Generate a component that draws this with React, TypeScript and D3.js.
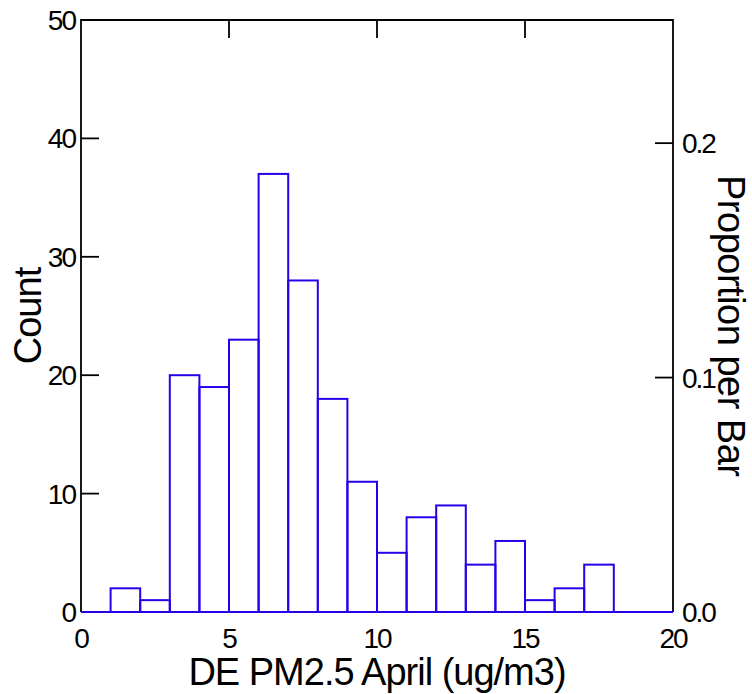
import React from 'react';
import * as d3 from 'd3';

// histogram of DE PM2.5 April, bin width 1
const binStarts = [1, 2, 3, 4, 5, 6, 7, 8, 9, 10, 11, 12, 13, 14, 15, 16, 17];
const counts = [2, 1, 20, 19, 23, 37, 28, 18, 11, 5, 8, 9, 4, 6, 1, 2, 4];
const xTicks = [0, 5, 10, 15, 20];
const countTicks = [0, 10, 20, 30, 40, 50];
const propTicks = [0.0, 0.1, 0.2];

const W = 752;
const H = 694;
const margin = { top: 20, right: 79, bottom: 82, left: 81 };
const FONT = 'Liberation Sans, Arial, sans-serif';
const BAR = '#2800e8';

const App = () => {
  const iw = W - margin.left - margin.right;
  const ih = H - margin.top - margin.bottom;
  const total = d3.sum(counts);

  const x = d3.scaleLinear().domain([0, 20]).range([0, iw]);
  const y = d3.scaleLinear().domain([0, 50]).range([ih, 0]);
  const yProp = d3.scaleLinear().domain([0, 50 / total]).range([ih, 0]);

  const tickLen = 18;

  return (
    <svg width={W} height={H} style={{ position: 'absolute', left: 0, top: 0, display: 'block' }}
      fontFamily={FONT}>
      <rect width={W} height={H} fill="#fff" />
      <g transform={`translate(${margin.left},${margin.top})`}>
        {/* bars */}
        {binStarts.map((b, i) => (
          <rect key={b} x={x(b)} y={y(counts[i])} width={x(b + 1) - x(b)} height={ih - y(counts[i])}
            fill="none" stroke={BAR} strokeWidth={2} />
        ))}
        {/* frame */}
        <path d={`M0,${ih}V0H${iw}V${ih}`} fill="none" stroke="#000" strokeWidth={1.8} />
        <line x1={0} x2={iw} y1={ih} y2={ih} stroke={BAR} strokeWidth={2} />

        {/* top ticks */}
        {xTicks.slice(1, -1).map(t => (
          <line key={t} x1={x(t)} x2={x(t)} y1={0} y2={tickLen} stroke="#000" strokeWidth={1.8} />
        ))}
        {/* bottom labels */}
        {xTicks.map(t => (
          <text key={t} x={x(t)} y={ih + 36} textAnchor="middle" fontSize={28} letterSpacing={-2}>{t}</text>
        ))}

        {/* left ticks + labels */}
        {countTicks.map(t => (
          <g key={t}>
            {t > 0 && t < 50 && <line x1={0} x2={tickLen} y1={y(t)} y2={y(t)} stroke="#000" strokeWidth={1.8} />}
            <text x={-6} y={y(t)} dy="0.36em" textAnchor="end" fontSize={28} letterSpacing={-2}>{t}</text>
          </g>
        ))}

        {/* right ticks + labels */}
        {propTicks.map(t => (
          <g key={t}>
            {t > 0 && <line x1={iw - tickLen} x2={iw} y1={yProp(t)} y2={yProp(t)} stroke="#000" strokeWidth={1.8} />}
            <text x={iw + 9} y={yProp(t)} dy="0.36em" textAnchor="start" fontSize={28} letterSpacing={-2}>
              {t.toFixed(1)}
            </text>
          </g>
        ))}

        {/* axis titles */}
        <text x={iw / 2} y={ih + 73} textAnchor="middle" fontSize={38} letterSpacing={-1}>
          DE PM2.5 April (ug/m3)
        </text>
        <text transform={`translate(${-40},${ih / 2}) rotate(-90)`} textAnchor="middle" fontSize={38} letterSpacing={-1}>
          Count
        </text>
        <text transform={`translate(${iw + 45},${155}) rotate(90)`} textAnchor="start" fontSize={38} letterSpacing={-0.5}>
          Proportion per Bar
        </text>
      </g>
    </svg>
  );
};

export default App;
